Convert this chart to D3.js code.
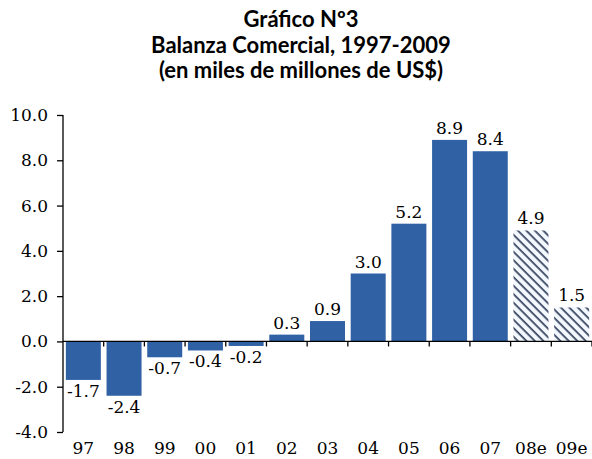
<!DOCTYPE html>
<html><head><meta charset="utf-8">
<script src="https://cdn.jsdelivr.net/npm/d3@7"></script>
<style>body{margin:0;background:#fff}svg{display:block}</style>
</head><body>
<script>
const titleLines = ["Gráfico Nº3", "Balanza Comercial, 1997-2009", "(en miles de millones de US$)"];
const categories = ["97","98","99","00","01","02","03","04","05","06","07","08e","09e"];
const values = [-1.7,-2.4,-0.7,-0.4,-0.2,0.3,0.9,3.0,5.2,8.9,8.4,4.9,1.5];
const estimated = [false,false,false,false,false,false,false,false,false,false,false,true,true];
const yTicks = [-4,-2,0,2,4,6,8,10];

const W = 592, H = 459;
const svg = d3.select("body").append("svg").attr("width", W).attr("height", H);
const serif = "'DejaVu Serif', serif";
const sans = "Lato, 'Open Sans', sans-serif";

const defs = svg.append("defs");
const pat = defs.append("pattern").attr("id","hatch").attr("patternUnits","userSpaceOnUse")
  .attr("width",6).attr("height",6).attr("patternTransform","rotate(45)");
pat.append("rect").attr("width",6).attr("height",6).attr("fill","#f2f8fd");
pat.append("rect").attr("x",0).attr("y",0).attr("width",6).attr("height",1.7).attr("fill","#34405e");

const x = d3.scaleBand().domain(categories).range([63, 592]).paddingInner(0.14).paddingOuter(0.07);
const y = d3.scaleLinear().domain([-4, 10]).range([432, 115]);

// title
const t = svg.append("text").attr("text-anchor","middle").attr("font-family",sans)
  .attr("font-weight","bold").attr("font-size",22).attr("fill","#000");
titleLines.forEach((l,i)=>t.append("tspan").attr("x",301).attr("y",27+i*25.5).text(l));

// bars
svg.selectAll("rect.bar").data(values).enter().append("rect")
  .attr("x",(d,i)=>x(categories[i]))
  .attr("width",x.bandwidth())
  .attr("y",d=>y(Math.max(0,d)))
  .attr("height",d=>Math.abs(y(d)-y(0)))
  .attr("fill",(d,i)=>estimated[i] ? "url(#hatch)" : "#3061a5");

// value labels
svg.selectAll("text.val").data(values).enter().append("text")
  .attr("x",(d,i)=>x(categories[i])+x.bandwidth()/2)
  .attr("y",d=> d>=0 ? y(d)-6 : y(d)+17)
  .attr("text-anchor","middle").attr("font-family",serif).attr("font-size",17)
  .text(d=>d.toFixed(1));

// y axis
const ya = svg.append("g").attr("transform","translate(63,0)")
  .call(d3.axisLeft(y).tickValues(yTicks).tickFormat(d3.format(".1f")).tickSize(6).tickPadding(9));
ya.select(".domain").attr("stroke","#000").attr("stroke-width",1.3).attr("d","M0,"+y(10)+"V"+y(-4));
ya.selectAll(".tick line").attr("stroke","#000").attr("stroke-width",1.3);
ya.selectAll(".tick text").attr("font-family",serif).attr("font-size",17).attr("fill","#000")
  .text(d=> d<0 ? "-"+Math.abs(d).toFixed(1) : d.toFixed(1));

// x axis at zero
const xa = svg.append("g").attr("transform","translate(0,"+y(0)+")");
xa.append("line").attr("x1",63).attr("x2",592).attr("stroke","#000").attr("stroke-width",1.3);
const step = x.step();
const bounds = categories.map((c,i)=>x(c)+x.bandwidth()+ (step-x.bandwidth())/2);
xa.selectAll("line.tk").data(bounds).enter().append("line")
  .attr("x1",d=>d).attr("x2",d=>d).attr("y1",0).attr("y2",5).attr("stroke","#000").attr("stroke-width",1.3);

// category labels
svg.selectAll("text.cat").data(categories).enter().append("text")
  .attr("x",d=>x(d)+x.bandwidth()/2).attr("y",454)
  .attr("text-anchor","middle").attr("font-family",serif).attr("font-size",17)
  .text(d=>d);
</script>
</body></html>
